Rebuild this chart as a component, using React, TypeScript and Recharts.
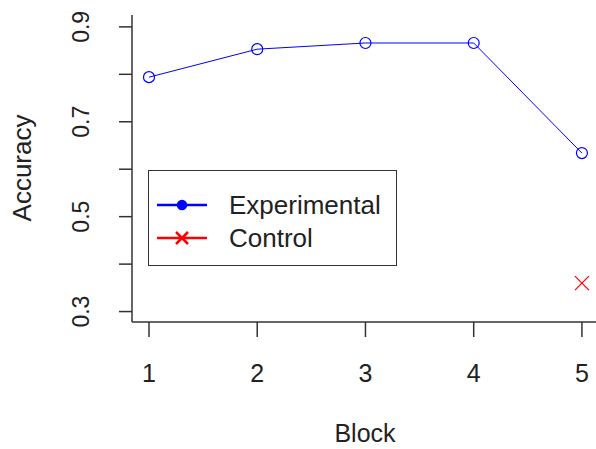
import { LineChart, Line, XAxis, YAxis } from 'recharts';

const blocks = [1, 2, 3, 4, 5];
const experimental = [0.794, 0.853, 0.866, 0.866, 0.634];
const control: Array<number | null> = [null, null, null, null, 0.36];
const yTicks = [0.3, 0.4, 0.5, 0.6, 0.7, 0.8, 0.9];
const yLabels = ['0.3', '', '0.5', '', '0.7', '', '0.9'];

const data = blocks.map((b, i) => ({ block: b, experimental: experimental[i], control: control[i] }));

const FONT = '"Liberation Sans", Arial, sans-serif';
const INK = '#222';
const AXIS = '#333';
const X_DOMAIN: [number, number] = [0.843, 5.13];

function YTick(props: any) {
  const { y, payload } = props;
  const idx = yTicks.indexOf(payload.value);
  const label = idx >= 0 ? yLabels[idx] : '';
  return (
    <text
      x={81}
      y={y}
      transform={`rotate(-90, 81, ${y})`}
      textAnchor="middle"
      dominantBaseline="central"
      fontSize={23}
      fontFamily={FONT}
      fill={INK}
    >
      {label}
    </text>
  );
}

function XTick(props: any) {
  const { x, payload } = props;
  return (
    <text x={x} y={373} textAnchor="middle" dominantBaseline="central" fontSize={25} fontFamily={FONT} fill={INK}>
      {payload.value}
    </text>
  );
}

function CrossDot(props: any) {
  const { cx, cy, value } = props;
  if (value == null || cx == null || cy == null) return null;
  const s = 7;
  return (
    <g stroke="#ff0000" strokeWidth={1.2}>
      <line x1={cx - s} y1={cy - s} x2={cx + s} y2={cy + s} />
      <line x1={cx - s} y1={cy + s} x2={cx + s} y2={cy - s} />
    </g>
  );
}

function LegendBox() {
  return (
    <div
      style={{
        position: 'absolute',
        left: 148,
        top: 170,
        width: 249,
        height: 96,
        border: `1.5px solid ${AXIS}`,
        boxSizing: 'border-box',
        background: '#fff',
        fontFamily: FONT,
        fontSize: 26,
        color: INK,
      }}
    >
      <svg width={80} height={96} style={{ position: 'absolute', left: 0, top: 0 }}>
        <line x1={8} y1={34} x2={58} y2={34} stroke="#0000ff" strokeWidth={2.5} />
        <circle cx={33} cy={34} r={4.5} fill="#0000ff" stroke="#0000ff" strokeWidth={1.5} />
        <line x1={8} y1={67} x2={58} y2={67} stroke="#ff0000" strokeWidth={2.5} />
        <g stroke="#ff0000" strokeWidth={2.5}>
          <line x1={27} y1={61} x2={39} y2={73} />
          <line x1={27} y1={73} x2={39} y2={61} />
        </g>
      </svg>
      <div style={{ position: 'absolute', left: 80, top: 19, lineHeight: '30px' }}>Experimental</div>
      <div style={{ position: 'absolute', left: 80, top: 52, lineHeight: '30px' }}>Control</div>
    </div>
  );
}

export default function App() {
  return (
    <div style={{ position: 'absolute', left: 0, top: 0, width: 596, height: 449, background: '#fff' }}>
      <LineChart width={596} height={449} data={data} margin={{ top: 15, right: 0, bottom: 0, left: 0 }}>
        <XAxis
          dataKey="block"
          type="number"
          domain={X_DOMAIN}
          ticks={blocks}
          allowDataOverflow
          height={127}
          tickSize={15}
          tick={<XTick />}
          axisLine={{ stroke: AXIS, strokeWidth: 1.5 }}
          tickLine={{ stroke: AXIS, strokeWidth: 1.5 }}
        />
        {/* top edge of the box */}
        <XAxis
          xAxisId="top"
          dataKey="block"
          orientation="top"
          type="number"
          domain={X_DOMAIN}
          allowDataOverflow
          height={0}
          tick={false}
          tickLine={false}
          axisLine={{ stroke: AXIS, strokeWidth: 1.5 }}
        />
        <YAxis
          type="number"
          domain={[0.278, 0.925]}
          ticks={yTicks}
          allowDataOverflow
          width={132}
          tickSize={13}
          tick={<YTick />}
          axisLine={{ stroke: AXIS, strokeWidth: 1.5 }}
          tickLine={{ stroke: AXIS, strokeWidth: 1.5 }}
        />
        <Line
          dataKey="experimental"
          name="Experimental"
          stroke="#0000ff"
          strokeWidth={1}
          dot={{ r: 5.5, stroke: '#0000ff', strokeWidth: 1.2, fill: 'none' }}
          isAnimationActive={false}
        />
        <Line
          xAxisId="top"
          dataKey="control"
          name="Control"
          stroke="none"
          dot={<CrossDot />}
          isAnimationActive={false}
        />
      </LineChart>
      <LegendBox />
      <div
        style={{
          position: 'absolute',
          left: 22,
          top: 168,
          transform: 'translate(-50%, -50%) rotate(-90deg)',
          fontFamily: FONT,
          fontSize: 26,
          lineHeight: '28px',
          color: INK,
          whiteSpace: 'nowrap',
        }}
      >
        Accuracy
      </div>
      <div
        style={{
          position: 'absolute',
          left: 365,
          top: 433,
          transform: 'translate(-50%, -50%)',
          fontFamily: FONT,
          fontSize: 25,
          lineHeight: '24px',
          color: INK,
          whiteSpace: 'nowrap',
        }}
      >
        Block
      </div>
    </div>
  );
}
